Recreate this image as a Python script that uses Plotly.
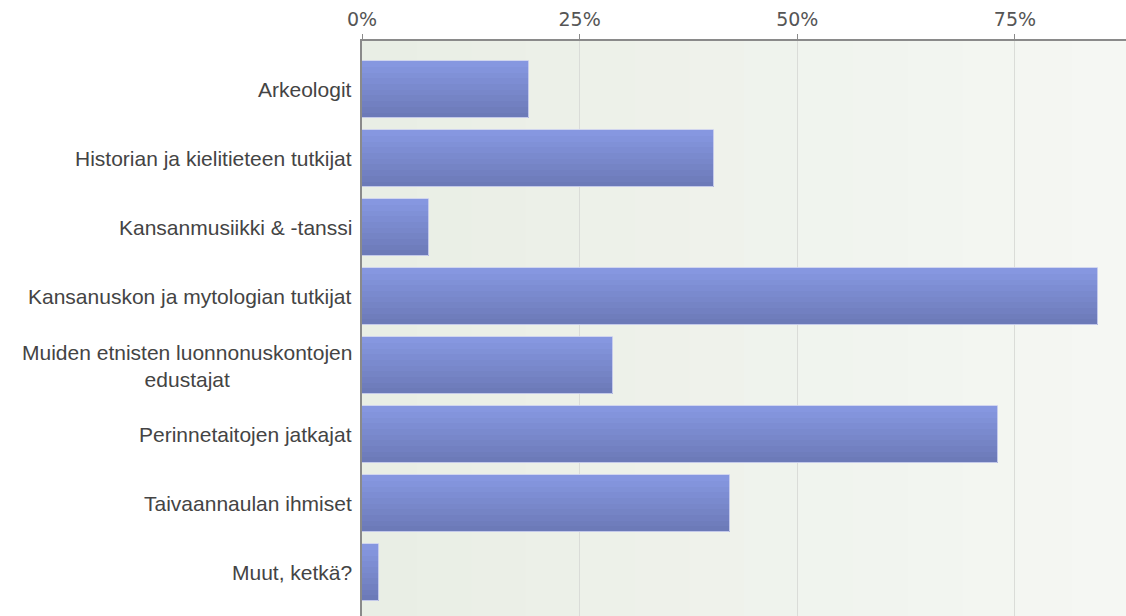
import plotly.graph_objects as go

categories = [
    "Arkeologit",
    "Historian ja kielitieteen tutkijat",
    "Kansanmusiikki & -tanssi",
    "Kansanuskon ja mytologian tutkijat",
    "Muiden etnisten luonnonuskontojen<br>edustajat",
    "Perinnetaitojen jatkajat",
    "Taivaannaulan ihmiset",
    "Muut, ketkä?",
]
values = [19.2, 40.4, 7.7, 84.6, 28.8, 73.1, 42.3, 1.9]
tick_vals = [0, 25, 50, 75]
tick_text = ["0%", "25%", "50%", "75%"]

x_max = 87.76
bar_w = 0.826
n_bands = 10
top_col = (0x86, 0x97, 0xE0)
bot_col = (0x6C, 0x7A, 0xB8)

fig = go.Figure()
for i in range(n_bands):
    t = i / (n_bands - 1)
    c = tuple(round(a + (b - a) * t) for a, b in zip(top_col, bot_col))
    fig.add_trace(go.Bar(
        y=categories, x=values, orientation="h",
        offset=-bar_w / 2 + i * bar_w / n_bands,
        width=bar_w / n_bands + 0.002,
        marker=dict(color="rgb(%d,%d,%d)" % c, line=dict(width=0)),
        showlegend=False, hoverinfo="skip",
    ))
fig.add_trace(go.Bar(
    y=categories, x=values, orientation="h",
    offset=-bar_w / 2, width=bar_w,
    marker=dict(color="rgba(0,0,0,0)", line=dict(color="rgba(205,210,238,0.9)", width=1)),
    showlegend=False, hovertemplate="%{x}%<extra></extra>",
))

# background gradient strips
n_strips = 14
bg_l = (0xE9, 0xEE, 0xE5)
bg_r = (0xF5, 0xF7, 0xF3)
shapes = []
for i in range(n_strips):
    t = i / (n_strips - 1)
    c = tuple(round(a + (b - a) * t) for a, b in zip(bg_l, bg_r))
    shapes.append(dict(
        type="rect", xref="x domain", yref="y domain",
        x0=i / n_strips, x1=(i + 1) / n_strips + 0.002, y0=0, y1=1,
        fillcolor="rgb(%d,%d,%d)" % c, line=dict(width=0), layer="below",
    ))

annotations = [
    dict(xref="paper", yref="y", x=0, y=cat, text=cat, xanchor="right",
         yanchor="middle", xshift=-8, showarrow=False, align="center",
         font=dict(family="Liberation Sans, Arial, sans-serif", size=21, color="#444444"))
    for cat in categories
]

fig.update_layout(
    width=1126, height=616,
    margin=dict(l=362, r=0, t=41, b=0),
    paper_bgcolor="white", plot_bgcolor="#eef2eb",
    barmode="overlay", bargap=0,
    shapes=shapes, annotations=annotations,
    xaxis=dict(
        side="top", range=[0, x_max], tickvals=tick_vals, ticktext=tick_text,
        showgrid=True, gridcolor="#dadcd8", gridwidth=1,
        showline=True, linecolor="#8a8a8a", linewidth=2,
        ticks="outside", ticklen=5, tickcolor="#8a8a8a", tickwidth=1,
        tickfont=dict(family="DejaVu Sans, Verdana, sans-serif", size=19, color="#555555"),
        zeroline=False, fixedrange=True,
    ),
    yaxis=dict(
        categoryorder="array", categoryarray=categories,
        range=[7.628, -0.706], showticklabels=False, ticks="",
        showgrid=False, showline=True, linecolor="#8a8a8a", linewidth=2,
        zeroline=False, fixedrange=True,
    ),
)

fig.write_html(
    "out.html",
    config={"displayModeBar": False},
    post_script="document.body.style.margin='0';document.body.style.overflow='hidden';",
)
